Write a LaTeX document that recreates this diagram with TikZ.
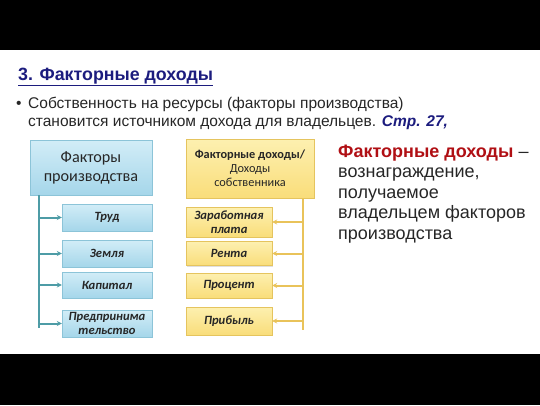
\documentclass[tikz,border=0pt]{standalone}
\usepackage{fontspec}
\setmainfont{Liberation Sans}
\newfontfamily\boxfont{Carlito}
\usetikzlibrary{arrows.meta,shadows}
\definecolor{navy}{HTML}{1C1C7E}
\definecolor{darkred}{HTML}{B00F14}
\definecolor{blueA}{HTML}{D2EDF7}
\definecolor{blueB}{HTML}{A5D6EA}
\definecolor{blueLine}{HTML}{4E9CA6}
\definecolor{blueEdge}{HTML}{8CC4D8}
\definecolor{yelA}{HTML}{FDF0B0}
\definecolor{yelB}{HTML}{F9DD7A}
\definecolor{yelLine}{HTML}{E9C35A}
\definecolor{yelEdge}{HTML}{E5C45E}

\begin{document}
\begin{tikzpicture}[x=1pt,y=-1pt]
		\tikzstyle{BlueBox}=[draw=blueEdge,top color=blueA,bottom color=blueB,
			drop shadow={opacity=0.25,shadow xshift=1pt,shadow yshift=-1pt},
			align=center,inner sep=1pt,text=black!85,font=\boxfont\bfseries\itshape\fontsize{12.6}{13.5}\selectfont]
		\tikzstyle{YelBox}=[draw=yelEdge,top color=yelA,bottom color=yelB,
			drop shadow={opacity=0.25,shadow xshift=1pt,shadow yshift=-1pt},
			align=center,inner sep=1pt,text=black!85,font=\boxfont\bfseries\itshape\fontsize{12.6}{14.5}\selectfont]
		\tikzstyle{BlueArrow}=[draw=blueLine,line width=2pt,-{Stealth[length=5pt,width=5pt]}]
		\tikzstyle{YelArrow}=[draw=yelLine,line width=2pt,-{Stealth[length=5pt,width=5pt]}]
		% frame
		\useasboundingbox (0,0) rectangle (540,405);
		\fill[black] (0,0) rectangle (540,50);
		\fill[black] (0,354) rectangle (540,405);
		% title and text
		\node[anchor=base west,inner sep=0pt,text=navy,font=\bfseries\fontsize{17.8}{19}\selectfont] (title) at (18,80) {\underline{3. Факторные доходы}};
		\node[anchor=base west,inner sep=0pt,text=black!85,font=\fontsize{15.5}{18}\selectfont] (bullet) at (16,108) {•};
		\node[anchor=base west,inner sep=0pt,align=left,text=black!85,font=\fontsize{15.5}{18}\selectfont] (intro) at (28,126)
			{Собственность на ресурсы (факторы производства)\\становится источником дохода для владельцев. {\color{navy}\bfseries\itshape Стр. 27,}};
		\node[anchor=base west,inner sep=0pt,align=left,text=black!85,font=\fontsize{18}{20.5}\selectfont] (defn) at (338,239)
			{{\color{darkred}\bfseries Факторные доходы} –\\вознаграждение,\\получаемое\\владельцем факторов\\производства};
		% factors
		\node[BlueBox,minimum width=122pt,minimum height=55pt,font=\boxfont\fontsize{16.2}{19}\selectfont] (factors) at (91,167.5) {Факторы\\производства};
		\node[BlueBox,minimum width=90pt,minimum height=27pt] (labor) at (107,217.5) {Труд};
		\node[BlueBox,minimum width=90pt,minimum height=27pt] (land) at (107,253.5) {Земля};
		\node[BlueBox,minimum width=90pt,minimum height=26pt] (capital) at (107,285) {Капитал};
		\node[BlueBox,minimum width=90pt,minimum height=27pt] (entre) at (107,323.5) {Предпринима\\тельство};
		\coordinate (trunkL) at (39,328);
		\draw[blueLine,line width=2pt] (factors.south -| trunkL) -- (trunkL);
		\foreach \n in {labor,land,capital,entre}
			\draw[BlueArrow] (trunkL |- \n.west) -- (\n.west);
		% incomes
		\node[YelBox,minimum width=128pt,minimum height=59pt,font=\boxfont\fontsize{12.3}{14}\selectfont] (incomes) at (250,168.5)
			{\textbf{Факторные доходы/}\\Доходы\\собственника};
		\node[YelBox,minimum width=86pt,minimum height=30pt] (wage) at (229,222) {Заработная\\плата};
		\node[YelBox,minimum width=86pt,minimum height=24pt] (rent) at (229,253.5) {Рента};
		\node[YelBox,minimum width=86pt,minimum height=25pt] (interest) at (229,285.5) {Процент};
		\node[YelBox,minimum width=86pt,minimum height=28pt] (profit) at (229,321) {Прибыль};
		\coordinate (trunkR) at (303,330);
		\draw[yelLine,line width=2pt] (incomes.south -| trunkR) -- (trunkR);
		\foreach \n in {wage,rent,interest,profit}
			\draw[YelArrow] (trunkR |- \n.east) -- (\n.east);
	\end{tikzpicture}
\end{document}
